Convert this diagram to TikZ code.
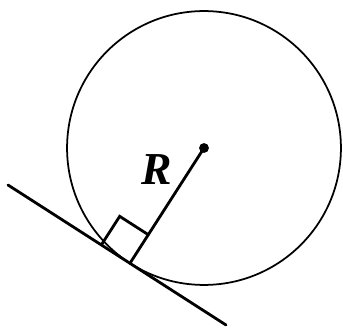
\documentclass[tikz,border=0pt]{standalone}
\usepackage{fontspec}
\setmainfont{Liberation Serif}
\usetikzlibrary{calc}

\begin{document}
\begin{tikzpicture}[x=0.02cm,y=-0.02cm,
    thickline/.style={line width=1.6pt,line cap=round},
    thinline/.style={line width=1pt}]
    \useasboundingbox (0,0) rectangle (343,331);
    % Define coordinates
    \coordinate (O) at (204,148);
    \coordinate (A) at (8,185);
    \coordinate (B) at (226,325);
    \coordinate (T) at ($(A)!(O)!(B)$);

    % Circle
    \draw[thinline] let \p1=($(O)-(T)$), \n1={veclen(\x1,\y1)} in (O) circle (\n1);

    % Tangent line and radius
    \draw[thickline] (A) -- (B);
    \draw[thickline] (T) -- (O);

    % Right angle mark
    \coordinate (P) at ($(T)!0.68cm!(A)$);
    \coordinate (Q) at ($(T)!0.68cm!(O)$);
    \draw[thickline,line join=miter] (P) -- ($(P)+(Q)-(T)$) -- (Q);

    % Centre
    \fill (O) circle (2.8pt);

    % Label
    \node[font=\fontsize{26}{30}\selectfont\bfseries\itshape] (R) at (157,170) {R};
\end{tikzpicture}
\end{document}
